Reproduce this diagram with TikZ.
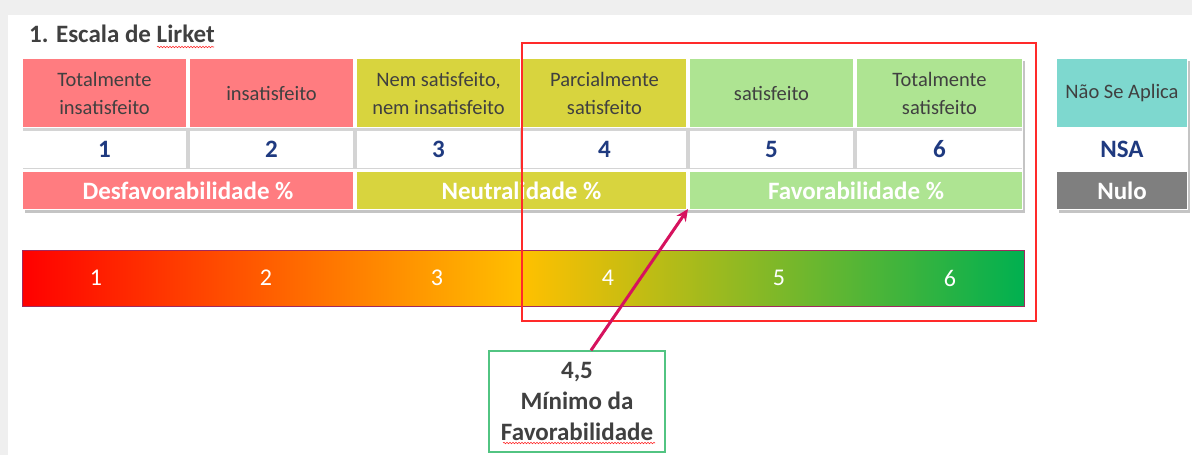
\documentclass[tikz,border=0pt]{standalone}
\usepackage{fontspec}
\setmainfont{Carlito}
\usetikzlibrary{arrows.meta,decorations.pathmorphing}
\definecolor{salmon}{HTML}{FF7C80}
\definecolor{olive}{HTML}{D8D43E}
\definecolor{lgreen}{HTML}{AEE492}
\definecolor{teal2}{HTML}{7ED8CF}
\definecolor{nulgray}{HTML}{7F7F7F}
\definecolor{txtgray}{HTML}{404040}
\definecolor{navy}{HTML}{1F3A80}
\definecolor{barborder}{HTML}{A02A5E}
\definecolor{arrowc}{HTML}{D6125E}
\definecolor{callg}{HTML}{52C482}
\definecolor{hlred}{HTML}{FF2A2A}
\definecolor{shadowgray}{HTML}{C4C4C4}
\definecolor{sepgray}{HTML}{D4D4D4}
\definecolor{bggray}{HTML}{EFEFEF}
\definecolor{gra}{HTML}{FF0000}
\definecolor{grb}{HTML}{FFC000}
\definecolor{grc}{HTML}{00B050}
\pgfdeclarehorizontalshading{likert}{100bp}{color(0bp)=(gra); color(25bp)=(gra); color(50bp)=(grb); color(75bp)=(grc); color(100bp)=(grc)}
\tikzset{
  labcell/.style={inner sep=0pt, outer sep=0pt, minimum width=163pt, minimum height=68pt,
    align=center, text=txtgray, font=\fontsize{20.5}{28}\selectfont},
  numcell/.style={inner sep=0pt, outer sep=0pt, minimum width=163pt, minimum height=37pt,
    fill=white, text=navy, font=\bfseries\fontsize{25}{30}\selectfont},
  catcell/.style={inner sep=0pt, outer sep=0pt, minimum height=37pt,
    text=white, font=\bfseries\fontsize{25}{30}\selectfont},
  barnum/.style={inner sep=0pt, text=white, font=\fontsize{24}{28}\selectfont},
  spell/.style={draw=red!85, line width=0.6pt, decorate,
    decoration={snake, amplitude=0.7pt, segment length=3pt}}
}
\begin{document}
\begin{tikzpicture}[x=1pt,y=-1pt]
\useasboundingbox (0,0) rectangle (1192,455);
% page background
\fill[bggray] (0,0) rectangle (1192,455);
\fill[white] (8,15) rectangle (1192,455);

% title
\node[anchor=base west, inner sep=0pt, text=txtgray, font=\bfseries\fontsize{25}{30}\selectfont] (title) at (29,42) {1. Escala de Lirket};
\draw[spell] (157,47) -- (214,47);

% main table backdrop
\fill[shadowgray] (25,61) rectangle (1025,213);
\fill[white] (21,57) rectangle (1023,210);
\fill[sepgray] (23,128) rectangle (1022,169);

% row 1
\node[labcell, fill=salmon] (l1) at (104.5,93) {Totalmente\\insatisfeito};
\node[labcell, fill=salmon] (l2) at (271.5,93) {insatisfeito};
\node[labcell, fill=olive] (l3) at (438.5,93) {Nem satisfeito,\\nem insatisfeito};
\node[labcell, fill=olive] (l4) at (604.5,93) {Parcialmente\\satisfeito};
\node[labcell, fill=lgreen] (l5) at (771.5,93) {satisfeito};
\node[labcell, fill=lgreen, minimum width=165pt] (l6) at (939.5,93) {Totalmente\\satisfeito};

% row 2
\node[numcell] (n1) at (104.5,149.5) {1};
\node[numcell] (n2) at (271.5,149.5) {2};
\node[numcell] (n3) at (438.5,149.5) {3};
\node[numcell] (n4) at (604.5,149.5) {4};
\node[numcell] (n5) at (771.5,149.5) {5};
\node[numcell, minimum width=165pt] (n6) at (939.5,149.5) {6};

% row 3
\node[catcell, fill=salmon, minimum width=330pt] (c1) at (188,190.5) {Desfavorabilidade \%};
\node[catcell, fill=olive, minimum width=329pt] (c2) at (521.5,190.5) {Neutralidade \%};
\node[catcell, fill=lgreen, minimum width=332pt] (c3) at (856,190.5) {Favorabilidade \%};

% NSA table
\fill[shadowgray] (1059,61) rectangle (1190,213);
\fill[white] (1056,58) rectangle (1188,210);
\node[labcell, fill=teal2, minimum width=130pt] (na) at (1122,93) {Não Se Aplica};
\node[numcell, minimum width=130pt] (nsa) at (1122,149.5) {NSA};
\node[catcell, fill=nulgray, minimum width=130pt] (nulo) at (1122,190.5) {Nulo};

% gradient bar
\node[inner sep=0pt, outer sep=0pt, shade, shading=likert, draw=barborder, line width=1pt,
  minimum width=1002pt, minimum height=56pt] (bar) at (523,278) {};
\node[barnum] (b1) at (96,278) {1};
\node[barnum] (b2) at (266,278) {2};
\node[barnum] (b3) at (437,278) {3};
\node[barnum] (b4) at (608,278) {4};
\node[barnum] (b5) at (779,278) {5};
\node[barnum] (b6) at (950,278) {6};

% highlight rectangle
\node[draw=hlred, line width=1.3pt, inner sep=0pt, minimum width=514pt, minimum height=278pt] (hl) at (779,182) {};

% callout
\node[draw=callg, line width=1.3pt, fill=white, inner sep=0pt, minimum width=176pt, minimum height=101pt,
  align=center, text=txtgray, font=\bfseries\fontsize{25}{31}\selectfont] (call) at (577,401.5) {4,5\\Mínimo da\\Favorabilidade};
\draw[spell] (503,443) -- (655,443);

% arrow
\coordinate (tip) at (688,209);
\draw[arrowc, line width=3pt, -{Stealth[length=12pt,width=11pt]}] ([xshift=14pt]call.north) -- (tip);
\end{tikzpicture}
\end{document}
